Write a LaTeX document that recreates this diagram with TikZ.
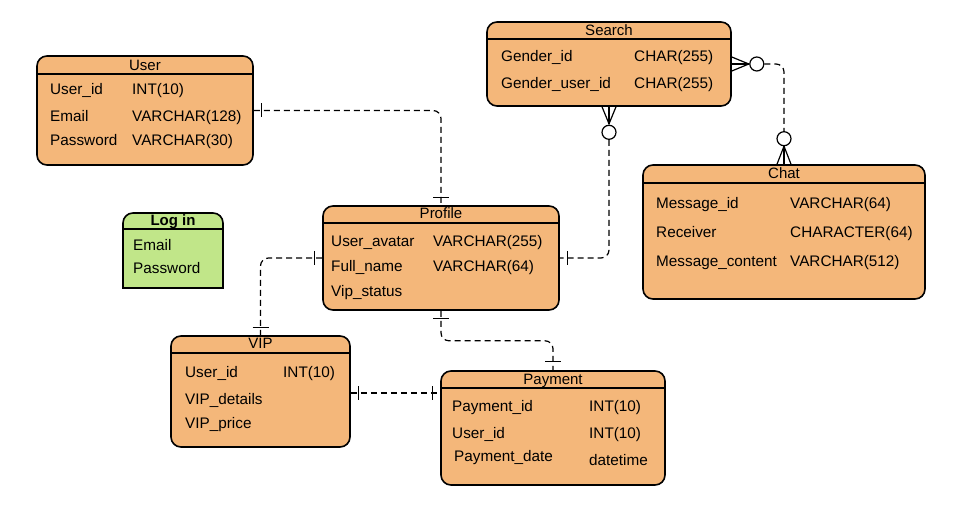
\documentclass[tikz,border=0pt]{standalone}
\usepackage{fontspec}
\setmainfont{Liberation Sans}
\usetikzlibrary{calc}
\definecolor{entfill}{RGB}{244,183,122}
\definecolor{loginfill}{RGB}{193,230,137}
\begin{document}
\begin{tikzpicture}[x=1pt,y=-1pt,
  entity/.style={draw, line width=1.6pt, rounded corners=10pt, fill=entfill, inner sep=0pt},
  hdr/.style={line width=1.6pt},
  ttl/.style={anchor=base, font=\fontsize{15}{18}\selectfont, inner sep=0pt},
  fld/.style={anchor=base west, font=\fontsize{15.3}{18}\selectfont, inner sep=0pt},
  rel/.style={line width=1.2pt, dash pattern=on 6pt off 4pt, rounded corners=8pt},
  tick/.style={line width=1.2pt},
  ring/.style={circle, draw, line width=1.2pt, fill=white, minimum size=14pt, inner sep=0pt},
]
\useasboundingbox (0,0) rectangle (957,510);

% ---------- User ----------
\node[entity, minimum width=216pt, minimum height=109pt] (user) at (145,110.5) {};
\draw[hdr] (user.west |- 0,74) -- (user.east |- 0,74);
\node[ttl] (userT) at (145,70.5) {User};
\node[fld] (u1a) at (50,95) {User\_id};
\node[fld] (u1b) at (132,95) {INT(10)};
\node[fld] (u2a) at (50,122) {Email};
\node[fld] (u2b) at (132,122) {VARCHAR(128)};
\node[fld] (u3a) at (50,146) {Password};
\node[fld] (u3b) at (132,146) {VARCHAR(30)};

% ---------- Log in ----------
\node[draw, line width=1.6pt, rounded corners=10pt, fill=loginfill, inner sep=0pt,
      minimum width=100pt, minimum height=75pt] (login) at (173,250.5) {};
\filldraw[line width=1.6pt, fill=loginfill] (123,268) -- (123,288) -- (223,288) -- (223,268);
\draw[hdr] (login.west |- 0,229) -- (login.east |- 0,229);
\node[ttl, font=\fontsize{15}{18}\selectfont\bfseries] (loginT) at (173,226) {Log in};
\node[fld] (l1) at (133,251) {Email};
\node[fld] (l2) at (133,273) {Password};

% ---------- Search ----------
\node[entity, minimum width=244pt, minimum height=84pt] (search) at (609,64) {};
\draw[hdr] (search.west |- 0,39) -- (search.east |- 0,39);
\node[ttl] (searchT) at (609,36) {Search};
\node[fld] (s1a) at (501,62) {Gender\_id};
\node[fld] (s1b) at (634,62) {CHAR(255)};
\node[fld] (s2a) at (501,89) {Gender\_user\_id};
\node[fld] (s2b) at (634,89) {CHAR(255)};

% ---------- Chat ----------
\node[entity, minimum width=282pt, minimum height=134pt] (chat) at (784,232) {};
\draw[hdr] (chat.west |- 0,183) -- (chat.east |- 0,183);
\node[ttl] (chatT) at (784,179) {Chat};
\node[fld] (c1a) at (656,209) {Message\_id};
\node[fld] (c1b) at (790,209) {VARCHAR(64)};
\node[fld] (c2a) at (656,238) {Receiver};
\node[fld] (c2b) at (790,238) {CHARACTER(64)};
\node[fld] (c3a) at (656,267) {Message\_content};
\node[fld] (c3b) at (790,267) {VARCHAR(512)};

% ---------- Profile ----------
\node[entity, minimum width=236pt, minimum height=104pt] (profile) at (441,258) {};
\draw[hdr] (profile.west |- 0,223) -- (profile.east |- 0,223);
\node[ttl] (profileT) at (441,218.5) {Profile};
\node[fld] (p1a) at (331,246.5) {User\_avatar};
\node[fld] (p1b) at (433,246.5) {VARCHAR(255)};
\node[fld] (p2a) at (331,271.5) {Full\_name};
\node[fld] (p2b) at (433,271.5) {VARCHAR(64)};
\node[fld] (p3a) at (331,296) {Vip\_status};

% ---------- VIP ----------
\node[entity, minimum width=179pt, minimum height=111pt] (vip) at (260.5,391.5) {};
\draw[hdr] (vip.west |- 0,353) -- (vip.east |- 0,353);
\node[ttl] (vipT) at (260.5,348.5) {VIP};
\node[fld] (v1a) at (185,377) {User\_id};
\node[fld] (v1b) at (283,377) {INT(10)};
\node[fld] (v2a) at (185,404) {VIP\_details};
\node[fld] (v3a) at (185,428) {VIP\_price};

% ---------- Payment ----------
\node[entity, minimum width=224pt, minimum height=114pt] (payment) at (553,428) {};
\draw[hdr] (payment.west |- 0,388) -- (payment.east |- 0,388);
\node[ttl] (paymentT) at (553,384) {Payment};
\node[fld] (y1a) at (452,411) {Payment\_id};
\node[fld] (y1b) at (589,411) {INT(10)};
\node[fld] (y2a) at (452,438) {User\_id};
\node[fld] (y2b) at (589,438) {INT(10)};
\node[fld] (y3a) at (454,461.5) {Payment\_date};
\node[fld] (y3b) at (589,465) {datetime};

% ---------- User -- Profile (one to one) ----------
\draw[rel] (user.east) -| (profile.north);
\draw[tick] ($(user.east)+(8,-7)$) -- ++(0,14);
\draw[tick] ($(profile.north)+(-8,-8)$) -- ++(16,0);

% ---------- Search -- Profile (zero-or-many to one) ----------
\draw[tick] ($(search.south)+(-7,0)$) -- ++(7,17) -- ++(7,-17);
\draw[tick] (search.south) -- ++(0,17);
\node[ring] (sr1) at ($(search.south)+(0,25.5)$) {};
\draw[rel] (sr1.south) |- (profile.east);
\draw[tick] ($(profile.east)+(8,-7)$) -- ++(0,14);

% ---------- Search -- Chat (zero-or-many on both sides) ----------
\draw[tick] ($(search.east)+(0,-7)$) -- ++(17,7) -- ++(-17,7);
\draw[tick] (search.east) -- ++(17,0);
\node[ring] (sr2) at ($(search.east)+(25,0)$) {};
\draw[tick] ($(chat.north)+(-7,0)$) -- ++(7,-18) -- ++(7,18);
\draw[tick] (chat.north) -- ++(0,-18);
\node[ring] (cr1) at ($(chat.north)+(0,-25.5)$) {};
\draw[rel] (sr2.east) -| (cr1.north);

% ---------- Profile -- VIP ----------
\draw[rel] (profile.west) -| (vip.north);
\draw[tick] ($(profile.west)+(-8,-7)$) -- ++(0,14);
\draw[tick] ($(vip.north)+(-8,-8)$) -- ++(16,0);

% ---------- Profile -- Payment ----------
\draw[rel] (profile.south) -- ++(0,30) -| (payment.north);
\draw[tick] ($(profile.south)+(-8,8)$) -- ++(16,0);
\draw[tick] ($(payment.north)+(-8,-9)$) -- ++(16,0);

% ---------- VIP -- Payment ----------
\coordinate (vp) at ($(vip.east)+(0,1.5)$);
\draw[rel] (vp) -- (vp -| payment.west);
\draw[tick] ($(vp)+(8,-7)$) -- ++(0,14);
\draw[tick] ($(vp -| payment.west)+(-8,-7)$) -- ++(0,14);
\end{tikzpicture}
\end{document}
